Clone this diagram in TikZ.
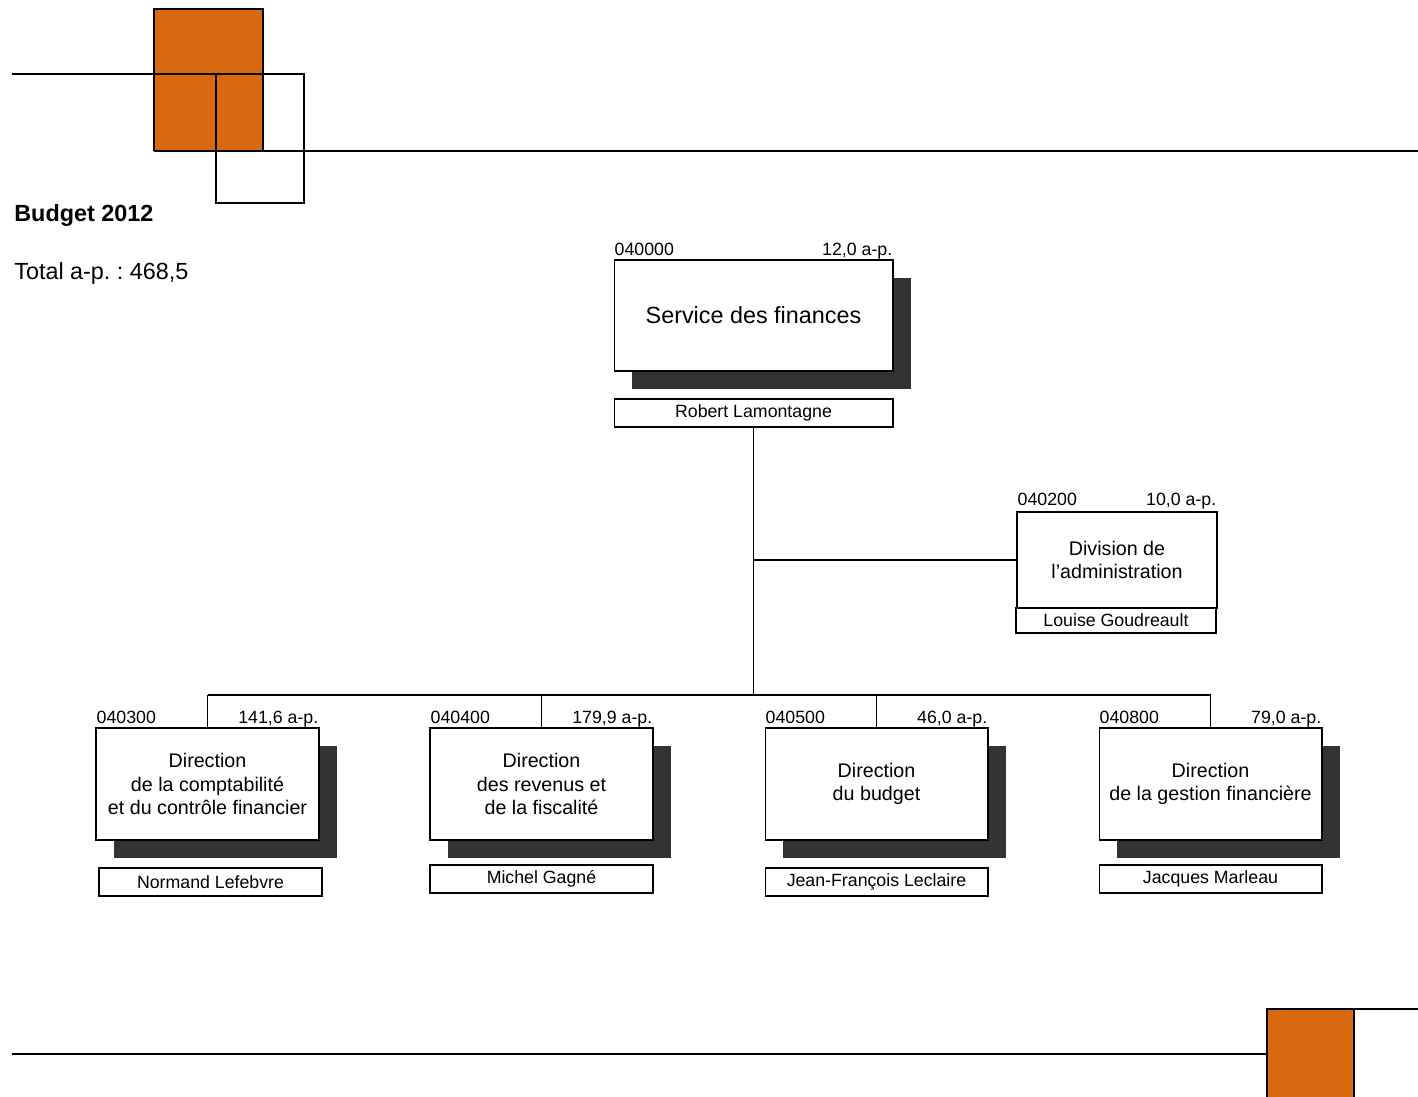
\documentclass[tikz,border=0pt]{standalone}
\usepackage{fontspec}
\setmainfont{Liberation Sans}
\usetikzlibrary{shadows}
\definecolor{orangeville}{RGB}{217,105,14}
\definecolor{ombre}{RGB}{51,51,51}
\frenchspacing

\tikzset{
  trait/.style={line width=0.6pt},
  boite/.style={draw, fill=white, line width=0.6pt, align=center, inner sep=0pt},
  ombree/.style={drop shadow={shadow xshift=0.36cm, shadow yshift=-0.36cm, opacity=1, fill=ombre}},
  nom/.style={draw, fill=white, line width=0.6pt, font=\fontsize{10.1}{12}\selectfont, inner sep=0pt, minimum height=0.56cm},
  etiq/.style={font=\fontsize{10.1}{12}\selectfont, inner sep=0pt}
}

% #1 nom du noeud, #2 x, #3 code, #4 a-p., #5 titre, #6 directeur, #7 position du directeur
\newcommand{\direction}[7]{%
  \node[boite, ombree, minimum width=4.46cm, minimum height=2.24cm, font=\fontsize{11.2}{13.3}\selectfont] (#1) at (#2,784) {#5};
  \node[etiq, anchor=base west] (#1code) at ([xshift=0.5pt, yshift=2.3pt]#1.north west) {#3};
  \node[etiq, anchor=base east] (#1ap) at ([xshift=-0.5pt, yshift=2.3pt]#1.north east) {#4};
  \node[nom, minimum width=4.46cm] (#1nom) at #7 {#6};
}

\begin{document}
\begin{tikzpicture}[x=0.02cm, y=-0.02cm]
\useasboundingbox (0,0) rectangle (1418,1097);
% bandeau du haut
\fill[orangeville] (154,9) rectangle (263,151);
\draw[trait] (154,151) -- (154,9) -- (263,9) -- (263,151);
\draw[trait] (12,74) -- (304,74);
\draw[trait] (154,151) -- (1418,151);
\draw[trait] (216,74) rectangle (304,203);
% bandeau du bas
\fill[orangeville] (1267,1009) rectangle (1354,1097);
\draw[trait] (1267,1097) -- (1267,1009) -- (1354,1009) -- (1354,1097);
\draw[trait] (1354,1009) -- (1418,1009);
\draw[trait] (12,1054) -- (1267,1054);

\node[anchor=base west, inner sep=0pt, font=\fontsize{13.3}{16}\selectfont\bfseries] (budget) at (14,222) {Budget 2012};
\node[anchor=base west, inner sep=0pt, font=\fontsize{13.3}{16}\selectfont] (total) at (14,280) {Total a-p. : 468,5};

% service
\node[boite, ombree, minimum width=5.58cm, minimum height=2.22cm, font=\fontsize{13.3}{16}\selectfont] (service) at (753.5,315.5) {Service des finances};
\node[etiq, anchor=base west] (servicecode) at ([xshift=0.5pt, yshift=2.3pt]service.north west) {040000};
\node[etiq, anchor=base east] (serviceap) at ([xshift=-0.5pt, yshift=2.3pt]service.north east) {12,0 a-p.};
\node[nom, minimum width=5.58cm] (servicenom) at (753.5,413) {Robert Lamontagne};

% division
\node[boite, minimum width=4cm, minimum height=1.92cm, font=\fontsize{11.2}{13.3}\selectfont] (admin) at (1117,560) {Division de\\l’administration};
\node[etiq, anchor=base west] (admincode) at ([xshift=0.5pt, yshift=3.5pt]admin.north west) {040200};
\node[etiq, anchor=base east] (adminap) at ([xshift=-0.5pt, yshift=3.5pt]admin.north east) {10,0 a-p.};
\node[nom, minimum width=4cm, minimum height=0.5cm] (adminnom) at (1116,620.5) {Louise Goudreault};

% directions
\direction{dirA}{207.5}{040300}{141,6 a-p.}{Direction\\de la comptabilité\\et du contrôle financier}{Normand Lefebvre}{(210.5,882)}
\direction{dirB}{541.5}{040400}{179,9 a-p.}{Direction\\des revenus et\\de la fiscalité}{Michel Gagné}{(541.5,879)}
\direction{dirC}{876.5}{040500}{46,0 a-p.}{Direction\\du budget}{Jean-François Leclaire}{(876.5,882)}
\direction{dirD}{1210.5}{040800}{79,0 a-p.}{Direction\\de la gestion financière}{Jacques Marleau}{(1210.5,879)}

% liens
\coordinate (bus) at (753.5,695);
\draw[trait] (servicenom.south) -- (bus);
\draw[trait] (servicenom.south |- admin.west) -- (admin.west);
\draw[trait] (dirA.north |- bus) -- (dirD.north |- bus);
\foreach \d in {dirA,dirB,dirC,dirD}
  \draw[trait] (\d.north) -- (\d.north |- bus);
\end{tikzpicture}
\end{document}
